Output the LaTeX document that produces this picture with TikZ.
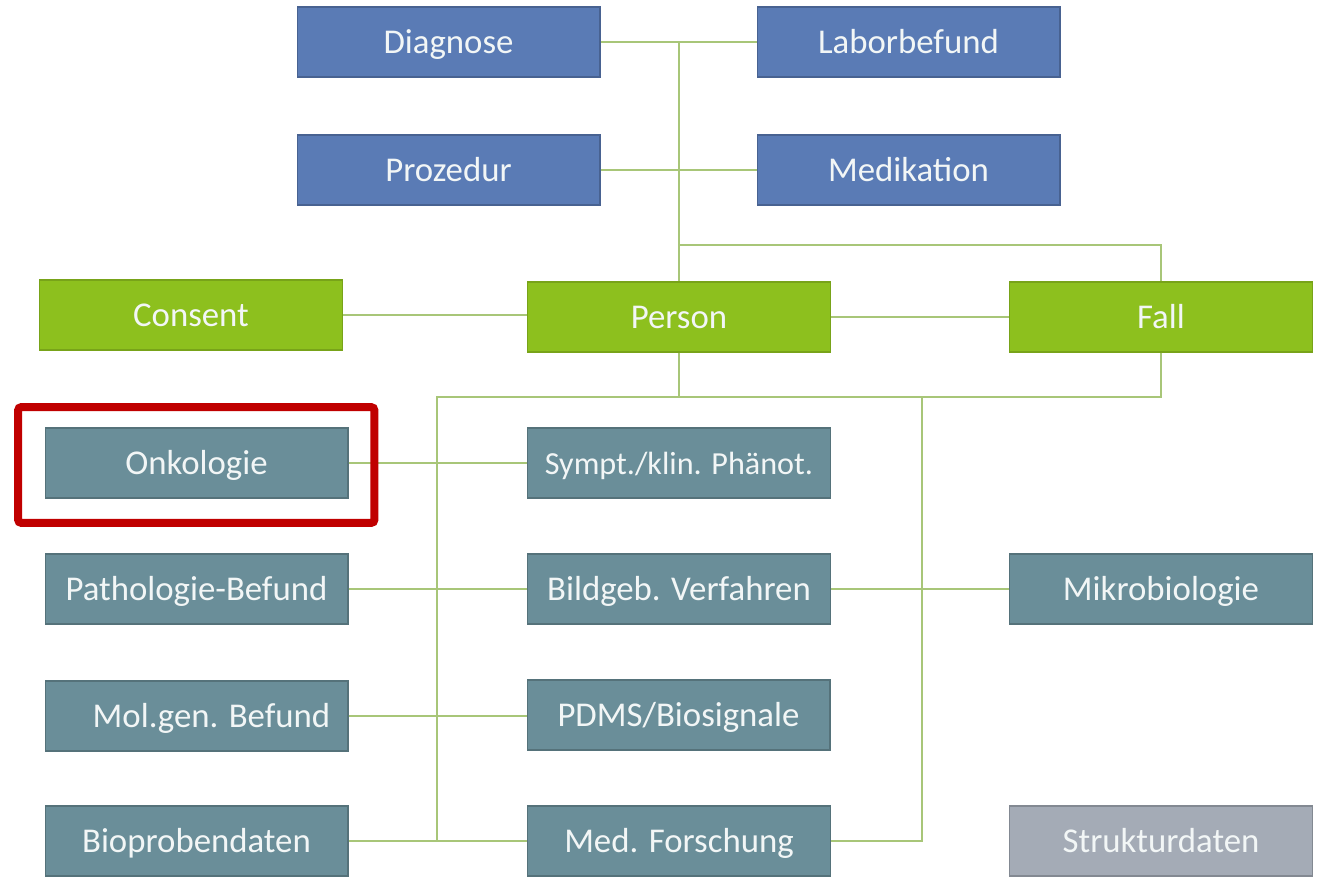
\documentclass[tikz,border=0pt]{standalone}
\usepackage{xcolor}
\usepackage{fontspec}
\setmainfont{Carlito}
\usepackage{tikz}
\usetikzlibrary{positioning,calc}
\definecolor{corecolor}{RGB}{90, 123, 181}
\definecolor{basecolor}{RGB}{141, 192, 30}
\definecolor{modulecolor}{RGB}{106, 142, 153}
\definecolor{structcolor}{RGB}{164, 171, 182}
\definecolor{linkcolor}{RGB}{168, 198, 120}
\definecolor{markcolor}{RGB}{192, 0, 0}
\definecolor{labelcolor}{RGB}{242, 246, 246}
\tikzset{
    module/.style={rectangle, draw, line width=0.6pt, minimum width=6.06cm, minimum height=1.4cm, inner sep=0pt, text height=12.6pt, text depth=0pt, text=labelcolor, font=\fontsize{19.8}{23}\selectfont},
    core module/.style={module, fill=corecolor, draw=corecolor!80!black},
    base module/.style={module, fill=basecolor, draw=basecolor!85!black},
    ext module/.style={module, fill=modulecolor, draw=modulecolor!80!black},
    struct module/.style={module, fill=structcolor, draw=structcolor!80!black},
    narrow label/.style={font=\fontsize{18.3}{22}\selectfont},
    link/.style={draw=linkcolor, line width=0.9pt},
    highlight/.style={rectangle, draw=markcolor, line width=0.16cm, rounded corners=2pt, minimum width=7.13cm, minimum height=2.32cm, inner sep=0pt}
}
\begin{document}
\begin{tikzpicture}[x=0.02cm, y=-0.02cm]
    \useasboundingbox (0,0) rectangle (1319,880);

    % Core modules (top)
    \node[core module] (diag) at (448.5,42) {Diagnose};
    \node[core module] (labor) at (908.5,42) {Laborbefund};
    \node[core module] (proz) at (448.5,170) {Prozedur};
    \node[core module] (medi) at (908.5,170) {Medikation};

    % Base modules
    \node[base module] (consent) at (191,315) {Consent};
    \node[base module] (person) at (679,317) {Person};
    \node[base module] (fall) at (1161,317) {Fall};

    % Extension modules
    \node[ext module] (onko) at (196.5,463) {Onkologie};
    \node[ext module, narrow label] (sympt) at (679,463) {Sympt./klin. Phänot.};
    \node[ext module] (patho) at (196.5,589) {Pathologie-Befund};
    \node[ext module] (bild) at (679,589) {Bildgeb. Verfahren};
    \node[ext module] (mikro) at (1161,589) {Mikrobiologie};
    \node[ext module] (molgen) at (196.5,716) {\hspace*{0.6cm}Mol.gen. Befund};
    \node[ext module] (pdms) at (678.5,715) {PDMS/Biosignale};
    \node[ext module] (biopro) at (196.5,841) {Bioprobendaten};
    \node[ext module] (medfo) at (679,841) {Med. Forschung};
    \node[struct module] (struk) at (1161,841) {Strukturdaten};

    % Junction points of the bus lines
    \coordinate (coretop) at (diag.east -| person.north);
    \coordinate (corefall) at (679,245);
    \coordinate (busL) at (437,397);
    \coordinate (busR) at (922,397);

    % Core links
    \draw[link] (diag.east) -- (labor.west);
    \draw[link] (proz.east) -- (medi.west);
    \draw[link] (coretop) -- (person.north);
    \draw[link] (corefall) -| (fall.north);

    % Base links
    \draw[link] (consent.east) -- (consent.east -| person.west);
    \draw[link] (person.east) -- (fall.west);
    \draw[link] (person.south) -- (person.south |- busL);
    \draw[link] (fall.south) |- (busL) -- (busL |- biopro.east);
    \draw[link] (busR) |- (medfo.east);

    % Extension links
    \draw[link] (onko.east) -- (sympt.west);
    \draw[link] (patho.east) -- (bild.west);
    \draw[link] (bild.east) -- (mikro.west);
    \draw[link] (molgen.east) -- (molgen.east -| pdms.west);
    \draw[link] (biopro.east) -- (medfo.west);

    % Highlight
    \node[highlight] (hilite) at (196.25,465) {};
\end{tikzpicture}
\end{document}
